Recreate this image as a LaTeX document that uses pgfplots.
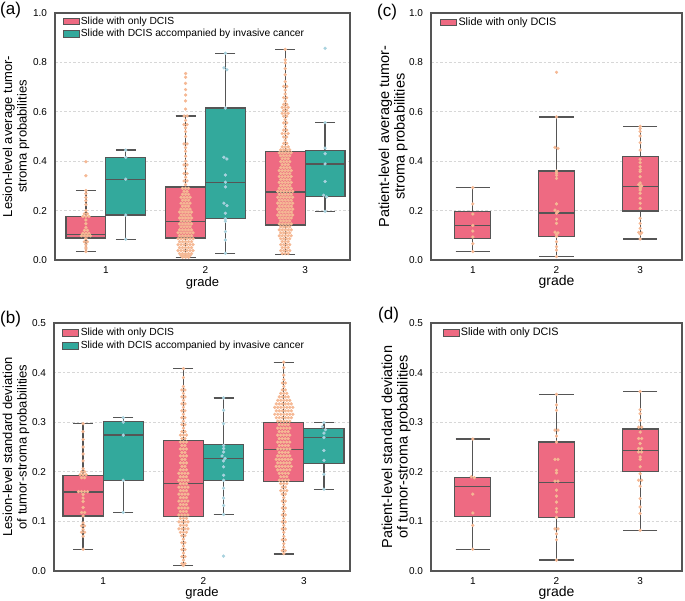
\documentclass[border=0pt]{standalone}
\usepackage{fontspec}
\setmainfont{Liberation Sans}
\usepackage{pgfplots}
\pgfplotsset{compat=1.18}
\usepackage{pgfplotstable}
\usepgfplotslibrary{statistics}

\definecolor{pinkbox}{RGB}{238,106,130}
\definecolor{tealbox}{RGB}{51,169,156}
\definecolor{pinkpt}{RGB}{245,184,148}
\definecolor{bluept}{RGB}{168,210,222}
\definecolor{edgec}{RGB}{85,85,85}
\definecolor{gridc}{RGB}{215,215,215}

\pgfplotsset{
  panel/.style={
    scale only axis,
    xmin=-0.5, xmax=2.5, ymin=0,
    xtick={0,1,2}, xticklabels={1,2,3},
    major tick length=0pt,
    axis line style={draw=edgec, line width=1.1pt},
    ymajorgrids,
    grid style={dash pattern=on 2.5pt off 2pt, draw=gridc, line width=0.6pt},
    tick label style={font=\fontsize{10}{12}\selectfont},
    /pgf/number format/assume math mode=true,
    yticklabel style={/pgf/number format/fixed, /pgf/number format/fixed zerofill, /pgf/number format/precision=1, xshift=-4.5pt},
    xticklabel style={yshift=-3pt},
    xlabel={grade},
    ylabel style={align=center, anchor=center},
    legend cell align=left,
    legend image code/.code={\draw[##1, line width=0.8pt] (0pt,-3.3pt) rectangle (16pt,3.3pt);},
    legend style={draw=none, fill=none, anchor=north west, inner sep=0pt, row sep=0pt,
      nodes={inner sep=1.5pt, text height=7.5pt, text depth=2pt}},
    boxplot/every whisker/.style={draw=edgec, line width=1.3pt},
    boxplot/every median/.style={draw=edgec, line width=1.3pt},
    boxplot/every box/.style={draw=edgec, line width=1.3pt},
  },
}

\newcommand{\bx}[9]{\addplot[draw=edgec, fill=#1, line width=1.3pt, mark=none, boxplot prepared={draw direction=y, draw position=#2, box extend=#3, whisker extend=#4, lower whisker=#5, lower quartile=#6, median=#7, upper quartile=#8, upper whisker=#9}] coordinates {};}
\newcommand{\sw}[4]{\addplot[only marks, mark=*, mark size=1.45pt, color=#1, mark options={solid, draw=#1, fill=#1}] table[x expr={(#2)+\thisrow{d}*#3}, y=y] {#4};}

% ---------------- panel (a) ----------------
\pgfplotstableread[row sep=\\]{y d\\
0.398 0\\0.341 0\\0.281 0\\0.268 0\\0.253 0\\0.240 0\\0.224 0\\0.200 0\\0.187 -0.5\\0.187 0.5\\0.176 -1\\0.176 0\\0.176 1\\0.162 0\\0.147 0\\0.132 0\\0.120 -0.5\\0.120 0.5\\0.108 -1\\0.108 0\\0.108 1\\0.098 -1.5\\0.098 -0.5\\0.098 0.5\\0.098 1.5\\0.086 0\\0.074 -0.5\\0.074 0.5\\0.062 0\\0.052 0\\0.045 0\\0.034 0\\
}\AoneP
\pgfplotstableread[row sep=\\]{y d\\0.445 0\\0.415 0\\0.327 0\\0.182 0\\0.084 0\\}\AoneT
\pgfplotstableread[row sep=\\]{y d\\
0.755 0\\0.740 0\\0.715 0\\0.690 0\\0.668 0\\0.644 0\\0.611 0\\
0.583 -0.5\\0.583 0.5\\0.565 0\\0.548 -0.5\\0.548 0.5\\0.535 0\\0.520 0\\0.500 0\\0.470 -0.5\\0.470 0.5\\0.455 0\\0.440 0\\0.420 0\\0.400 0\\0.385 -0.5\\0.385 0.5\\0.370 0\\0.350 -0.5\\0.350 0.5\\0.335 0\\0.320 -0.5\\0.320 0.5\\0.305 0\\
0.290 -1\\0.290 0\\0.290 1\\
0.278 -0.5\\0.278 0.5\\
0.266 -1\\0.266 0\\0.266 1\\
0.254 -1.5\\0.254 -0.5\\0.254 0.5\\0.254 1.5\\
0.242 -1\\0.242 0\\0.242 1\\
0.230 -1.5\\0.230 -0.5\\0.230 0.5\\0.230 1.5\\
0.218 -1\\0.218 0\\0.218 1\\
0.206 -1.5\\0.206 -0.5\\0.206 0.5\\0.206 1.5\\
0.194 -2\\0.194 -1\\0.194 0\\0.194 1\\0.194 2\\
0.182 -1.5\\0.182 -0.5\\0.182 0.5\\0.182 1.5\\
0.170 -2\\0.170 -1\\0.170 0\\0.170 1\\0.170 2\\
0.158 -1.5\\0.158 -0.5\\0.158 0.5\\0.158 1.5\\
0.146 -2\\0.146 -1\\0.146 0\\0.146 1\\0.146 2\\
0.134 -1.5\\0.134 -0.5\\0.134 0.5\\0.134 1.5\\
0.122 -2\\0.122 -1\\0.122 0\\0.122 1\\0.122 2\\
0.110 -2.5\\0.110 -1.5\\0.110 -0.5\\0.110 0.5\\0.110 1.5\\0.110 2.5\\
0.098 -2\\0.098 -1\\0.098 0\\0.098 1\\0.098 2\\
0.086 -2.5\\0.086 -1.5\\0.086 -0.5\\0.086 0.5\\0.086 1.5\\0.086 2.5\\
0.074 -2\\0.074 -1\\0.074 0\\0.074 1\\0.074 2\\
0.062 -2.5\\0.062 -1.5\\0.062 -0.5\\0.062 0.5\\0.062 1.5\\0.062 2.5\\
0.050 -2\\0.050 -1\\0.050 0\\0.050 1\\0.050 2\\
0.038 -2.5\\0.038 -1.5\\0.038 -0.5\\0.038 0.5\\0.038 1.5\\0.038 2.5\\
0.026 -2\\0.026 -1\\0.026 0\\0.026 1\\0.026 2\\
0.018 -1.5\\0.018 -0.5\\0.018 0.5\\0.018 1.5\\
0.011 -1\\0.011 0\\0.011 1\\
}\AtwoP
\pgfplotstableread[row sep=\\]{y d\\
0.837 0\\0.778 -0.5\\0.770 0.5\\0.615 0\\0.416 -0.5\\0.409 0.5\\0.344 0\\0.315 0\\0.296 0\\0.230 -0.5\\0.220 0.5\\0.189 0\\0.167 0\\0.157 0\\0.115 0\\0.081 0\\0.027 0\\
}\AtwoT
\pgfplotstableread[row sep=\\]{y d\\
0.853 0\\0.810 0\\0.798 0\\0.775 0\\0.750 0\\0.722 0\\
0.703 -0.5\\0.703 0.5\\0.688 0\\0.672 0\\0.657 -0.5\\0.657 0.5\\0.643 0\\0.630 -0.5\\0.630 0.5\\
0.618 -1\\0.618 0\\0.618 1\\0.606 -0.5\\0.606 0.5\\0.594 -1\\0.594 0\\0.594 1\\0.582 -0.5\\0.582 0.5\\
0.568 0\\0.555 -0.5\\0.555 0.5\\0.540 0\\0.526 -0.5\\0.526 0.5\\0.512 -1\\0.512 0\\0.512 1\\0.498 -0.5\\0.498 0.5\\0.485 0\\0.472 -0.5\\0.472 0.5\\0.458 -1\\0.458 0\\0.458 1\\
0.446 -1.5\\0.446 -0.5\\0.446 0.5\\0.446 1.5\\
0.434 -2\\0.434 -1\\0.434 0\\0.434 1\\0.434 2\\
0.422 -1.5\\0.422 -0.5\\0.422 0.5\\0.422 1.5\\
0.410 -1\\0.410 0\\0.410 1\\
0.398 -1.5\\0.398 -0.5\\0.398 0.5\\0.398 1.5\\
0.386 -1\\0.386 0\\0.386 1\\
0.374 -1.5\\0.374 -0.5\\0.374 0.5\\0.374 1.5\\
0.362 -2\\0.362 -1\\0.362 0\\0.362 1\\0.362 2\\
0.350 -1.5\\0.350 -0.5\\0.350 0.5\\0.350 1.5\\
0.338 -2\\0.338 -1\\0.338 0\\0.338 1\\0.338 2\\
0.326 -1.5\\0.326 -0.5\\0.326 0.5\\0.326 1.5\\
0.314 -2\\0.314 -1\\0.314 0\\0.314 1\\0.314 2\\
0.302 -1.5\\0.302 -0.5\\0.302 0.5\\0.302 1.5\\
0.290 -2\\0.290 -1\\0.290 0\\0.290 1\\0.290 2\\
0.278 -2.5\\0.278 -1.5\\0.278 -0.5\\0.278 0.5\\0.278 1.5\\0.278 2.5\\
0.266 -2\\0.266 -1\\0.266 0\\0.266 1\\0.266 2\\
0.254 -2.5\\0.254 -1.5\\0.254 -0.5\\0.254 0.5\\0.254 1.5\\0.254 2.5\\
0.242 -2\\0.242 -1\\0.242 0\\0.242 1\\0.242 2\\
0.230 -2.5\\0.230 -1.5\\0.230 -0.5\\0.230 0.5\\0.230 1.5\\0.230 2.5\\
0.218 -2\\0.218 -1\\0.218 0\\0.218 1\\0.218 2\\
0.206 -2.5\\0.206 -1.5\\0.206 -0.5\\0.206 0.5\\0.206 1.5\\0.206 2.5\\
0.194 -2\\0.194 -1\\0.194 0\\0.194 1\\0.194 2\\
0.182 -2.5\\0.182 -1.5\\0.182 -0.5\\0.182 0.5\\0.182 1.5\\0.182 2.5\\
0.170 -2\\0.170 -1\\0.170 0\\0.170 1\\0.170 2\\
0.158 -1.5\\0.158 -0.5\\0.158 0.5\\0.158 1.5\\
0.146 -2\\0.146 -1\\0.146 0\\0.146 1\\0.146 2\\
0.134 -1.5\\0.134 -0.5\\0.134 0.5\\0.134 1.5\\
0.122 -2\\0.122 -1\\0.122 0\\0.122 1\\0.122 2\\
0.110 -1.5\\0.110 -0.5\\0.110 0.5\\0.110 1.5\\
0.098 -2\\0.098 -1\\0.098 0\\0.098 1\\0.098 2\\
0.086 -1.5\\0.086 -0.5\\0.086 0.5\\0.086 1.5\\
0.074 -1\\0.074 0\\0.074 1\\
0.062 -1.5\\0.062 -0.5\\0.062 0.5\\0.062 1.5\\
0.050 -1\\0.050 0\\0.050 1\\
0.038 -1.5\\0.038 -0.5\\0.038 0.5\\0.038 1.5\\
0.026 -1\\0.026 0\\0.026 1\\
}\AthreeP
\pgfplotstableread[row sep=\\]{y d\\0.857 0\\0.556 0\\0.453 0\\0.430 0\\0.389 0\\0.318 0\\0.262 -0.5\\0.255 0.5\\0.197 0\\}\AthreeT

% ---------------- panel (b) ----------------
\pgfplotstableread[row sep=\\]{y d\\
0.297 0\\0.281 0\\0.265 0\\0.250 0\\0.236 0\\0.222 0\\0.206 0\\0.200 -0.5\\0.200 0.5\\0.194 -1\\0.194 0\\0.194 1\\0.188 -0.5\\0.188 0.5\\0.160 -1.5\\0.160 -0.5\\0.160 0.5\\0.160 1.5\\0.154 0\\0.147 0\\0.140 0\\0.128 0\\0.118 -0.5\\0.118 0.5\\0.111 0\\0.097 0\\0.091 -0.5\\0.091 0.5\\0.084 0\\0.078 -0.5\\0.078 0.5\\0.070 0\\0.044 0\\
}\BoneP
\pgfplotstableread[row sep=\\]{y d\\0.309 0\\0.300 0\\0.274 0\\0.183 0\\0.118 0\\}\BoneT
\pgfplotstableread[row sep=\\]{y d\\
0.408 0\\0.390 0\\0.372 0\\0.365 -0.5\\0.365 0.5\\0.358 0\\0.351 -0.5\\0.351 0.5\\0.344 0\\0.337 -0.5\\0.337 0.5\\0.330 0\\0.323 -0.5\\0.323 0.5\\0.316 0\\0.309 -0.5\\0.309 0.5\\0.302 0\\0.295 -0.5\\0.295 0.5\\0.288 0\\0.281 -0.5\\0.281 0.5\\
0.274 -1\\0.274 0\\0.274 1\\0.267 -0.5\\0.267 0.5\\0.260 -1\\0.260 0\\0.260 1\\0.253 -0.5\\0.253 0.5\\0.246 -1\\0.246 0\\0.246 1\\0.239 -0.5\\0.239 0.5\\0.232 -1\\0.232 0\\0.232 1\\0.225 -0.5\\0.225 0.5\\0.218 -1\\0.218 0\\0.218 1\\0.211 -0.5\\0.211 0.5\\0.204 -1\\0.204 0\\0.204 1\\
0.197 -1.5\\0.197 -0.5\\0.197 0.5\\0.197 1.5\\0.190 -1\\0.190 0\\0.190 1\\
0.183 -1.5\\0.183 -0.5\\0.183 0.5\\0.183 1.5\\0.176 -1\\0.176 0\\0.176 1\\
0.169 -1.5\\0.169 -0.5\\0.169 0.5\\0.169 1.5\\0.162 -1\\0.162 0\\0.162 1\\
0.155 -1.5\\0.155 -0.5\\0.155 0.5\\0.155 1.5\\0.148 -1\\0.148 0\\0.148 1\\
0.141 -1.5\\0.141 -0.5\\0.141 0.5\\0.141 1.5\\0.134 -1\\0.134 0\\0.134 1\\
0.127 -1.5\\0.127 -0.5\\0.127 0.5\\0.127 1.5\\0.120 -1\\0.120 0\\0.120 1\\
0.113 -1.5\\0.113 -0.5\\0.113 0.5\\0.113 1.5\\0.106 -1\\0.106 0\\0.106 1\\
0.099 -1.5\\0.099 -0.5\\0.099 0.5\\0.099 1.5\\0.092 -1\\0.092 0\\0.092 1\\
0.085 -1.5\\0.085 -0.5\\0.085 0.5\\0.085 1.5\\0.078 -1\\0.078 0\\0.078 1\\
0.071 -0.5\\0.071 0.5\\0.064 0\\0.057 -0.5\\0.057 0.5\\0.050 0\\0.043 -0.5\\0.043 0.5\\0.036 0\\0.029 -0.5\\0.029 0.5\\0.022 0\\0.015 -0.5\\0.015 0.5\\0.011 0\\
}\BtwoP
\pgfplotstableread[row sep=\\]{y d\\
0.349 0\\0.324 0\\0.297 0\\0.253 0\\0.247 0\\0.240 0\\0.232 -0.5\\0.227 0.5\\0.222 0\\0.210 0\\0.193 0\\0.183 0\\0.167 0\\0.147 0\\0.132 0\\0.114 0\\0.030 0\\
}\BtwoT
\pgfplotstableread[row sep=\\]{y d\\
0.421 0\\0.410 0\\0.395 0\\0.386 0\\0.379 -0.5\\0.379 0.5\\0.372 0\\0.365 -0.5\\0.365 0.5\\
0.358 -1\\0.358 0\\0.358 1\\
0.351 -1.5\\0.351 -0.5\\0.351 0.5\\0.351 1.5\\
0.344 -2\\0.344 -1\\0.344 0\\0.344 1\\0.344 2\\
0.337 -2.5\\0.337 -1.5\\0.337 -0.5\\0.337 0.5\\0.337 1.5\\0.337 2.5\\
0.330 -3\\0.330 -2\\0.330 -1\\0.330 0\\0.330 1\\0.330 2\\0.330 3\\
0.323 -2.5\\0.323 -1.5\\0.323 -0.5\\0.323 0.5\\0.323 1.5\\0.323 2.5\\
0.316 -3\\0.316 -2\\0.316 -1\\0.316 0\\0.316 1\\0.316 2\\0.316 3\\
0.309 -2.5\\0.309 -1.5\\0.309 -0.5\\0.309 0.5\\0.309 1.5\\0.309 2.5\\
0.302 -2\\0.302 -1\\0.302 0\\0.302 1\\0.302 2\\
0.295 -1.5\\0.295 -0.5\\0.295 0.5\\0.295 1.5\\
0.288 -2\\0.288 -1\\0.288 0\\0.288 1\\0.288 2\\
0.281 -1.5\\0.281 -0.5\\0.281 0.5\\0.281 1.5\\
0.274 -2\\0.274 -1\\0.274 0\\0.274 1\\0.274 2\\
0.267 -1.5\\0.267 -0.5\\0.267 0.5\\0.267 1.5\\
0.260 -2\\0.260 -1\\0.260 0\\0.260 1\\0.260 2\\
0.253 -1.5\\0.253 -0.5\\0.253 0.5\\0.253 1.5\\
0.246 -2\\0.246 -1\\0.246 0\\0.246 1\\0.246 2\\
0.239 -1.5\\0.239 -0.5\\0.239 0.5\\0.239 1.5\\
0.232 -2\\0.232 -1\\0.232 0\\0.232 1\\0.232 2\\
0.225 -2.5\\0.225 -1.5\\0.225 -0.5\\0.225 0.5\\0.225 1.5\\0.225 2.5\\
0.218 -2\\0.218 -1\\0.218 0\\0.218 1\\0.218 2\\
0.211 -2.5\\0.211 -1.5\\0.211 -0.5\\0.211 0.5\\0.211 1.5\\0.211 2.5\\
0.204 -2\\0.204 -1\\0.204 0\\0.204 1\\0.204 2\\
0.197 -1.5\\0.197 -0.5\\0.197 0.5\\0.197 1.5\\
0.190 -1\\0.190 0\\0.190 1\\
0.183 -1.5\\0.183 -0.5\\0.183 0.5\\0.183 1.5\\
0.176 -1\\0.176 0\\0.176 1\\
0.169 -0.5\\0.169 0.5\\0.162 -1\\0.162 0\\0.162 1\\0.155 -0.5\\0.155 0.5\\0.148 0\\0.141 -0.5\\0.141 0.5\\0.134 0\\0.127 -0.5\\0.127 0.5\\0.120 0\\0.113 -0.5\\0.113 0.5\\0.106 0\\0.099 -0.5\\0.099 0.5\\0.092 0\\0.085 -0.5\\0.085 0.5\\0.078 0\\0.070 0\\0.063 -0.5\\0.063 0.5\\0.055 0\\0.048 0\\0.041 -0.5\\0.041 0.5\\0.035 0\\
}\BthreeP
\pgfplotstableread[row sep=\\]{y d\\0.299 0\\0.291 -0.5\\0.285 0.5\\0.278 0\\0.269 0\\0.243 0\\0.223 0\\0.195 0\\0.165 0\\}\BthreeT

% ---------------- panel (c) ----------------
\pgfplotstableread[row sep=\\]{y d\\0.293 0\\0.227 0\\0.186 0\\0.140 0\\0.117 0\\0.093 0\\0.066 0\\0.034 0\\}\Cone
\pgfplotstableread[row sep=\\]{y d\\
0.760 0\\0.579 0\\0.456 -0.5\\0.452 0.5\\0.360 0\\0.352 0\\0.343 0\\0.330 0\\0.227 0\\0.202 -0.5\\0.196 0.5\\0.190 0\\0.165 0\\0.148 0\\0.113 -0.5\\0.110 0.5\\0.104 0\\0.096 0\\0.074 0\\0.054 0\\0.040 0\\0.014 0\\
}\Ctwo
\pgfplotstableread[row sep=\\]{y d\\
0.541 0\\0.532 0\\0.520 0\\0.502 0\\0.475 0\\0.445 0\\0.408 0\\0.394 0\\0.378 0\\0.365 0\\0.358 0\\0.337 0\\0.312 0\\0.305 -0.5\\0.300 0.5\\0.295 0\\0.288 0\\0.283 0\\0.270 0\\0.250 0\\0.230 0\\0.209 0\\0.169 0\\0.148 0\\0.128 0\\0.112 -0.5\\0.110 0.5\\0.105 0\\0.085 0\\
}\Cthree

% ---------------- panel (d) ----------------
\pgfplotstableread[row sep=\\]{y d\\0.266 0\\0.190 -0.5\\0.188 0.5\\0.155 0\\0.117 0\\0.092 0\\0.044 0\\}\Done
\pgfplotstableread[row sep=\\]{y d\\
0.356 0\\0.335 0\\0.324 0\\0.284 -0.5\\0.284 0.5\\0.272 0\\0.260 0\\0.225 -0.5\\0.225 0.5\\0.203 0\\0.198 0\\0.181 -0.5\\0.181 0.5\\0.163 0\\0.151 0\\0.139 0\\0.126 0\\0.119 0\\0.108 0\\0.085 -0.5\\0.085 0.5\\0.075 0\\0.063 0\\0.022 0\\
}\Dtwo
\pgfplotstableread[row sep=\\]{y d\\
0.362 0\\0.325 0\\0.317 0\\0.304 0\\0.290 -0.5\\0.290 0.5\\0.280 0\\0.267 -0.5\\0.267 0.5\\0.257 0\\0.247 -0.5\\0.247 0.5\\0.240 -0.5\\0.240 0.5\\0.230 0\\0.225 0\\0.210 0\\0.196 0\\0.183 -0.5\\0.183 0.5\\0.171 0\\0.146 0\\0.129 0\\0.116 0\\0.082 0\\
}\Dthree

\begin{document}
\begin{tikzpicture}
\path[use as bounding box] (0pt,0pt) rectangle (685pt,601pt);

\node[font=\fontsize{17}{18}\selectfont, anchor=west, inner sep=0pt] at (0pt,591pt) {(a)};
\node[font=\fontsize{17}{18}\selectfont, anchor=west, inner sep=0pt] at (0pt,282pt) {(b)};
\node[font=\fontsize{17}{18}\selectfont, anchor=west, inner sep=0pt] at (377pt,589pt) {(c)};
\node[font=\fontsize{17}{18}\selectfont, anchor=west, inner sep=0pt] at (378pt,286pt) {(d)};

% (a)
\begin{axis}[panel, at={(55pt,341pt)}, anchor=south west, width=295pt, height=247pt,
  xmin=-0.51, xmax=2.45, ymax=1, ytick={0,0.2,0.4,0.6,0.8,1.0},
  ylabel={Lesion-level average tumor-\\stroma probabilities},
  ylabel style={at={(axis description cs:-0.132,0.5)}, font=\fontsize{13}{14.5}\selectfont},
  xlabel style={at={(axis description cs:0.5,-0.093)}, anchor=center, font=\fontsize{13}{14}\selectfont},
  legend style={at={(axis description cs:0.025,0.992)}, font=\fontsize{10.3}{12}\selectfont}]
\addlegendimage{fill=pinkbox, draw=edgec}
\addlegendentry{Slide with only DCIS}
\addlegendimage{fill=tealbox, draw=edgec}
\addlegendentry{Slide with DCIS accompanied by invasive cancer}
\bx{pinkbox}{-0.2}{0.4}{0.2}{0.034}{0.089}{0.104}{0.175}{0.281}
\bx{tealbox}{0.2}{0.4}{0.2}{0.084}{0.182}{0.327}{0.414}{0.445}
\bx{pinkbox}{0.8}{0.4}{0.2}{0.011}{0.089}{0.157}{0.296}{0.583}
\bx{tealbox}{1.2}{0.4}{0.2}{0.027}{0.167}{0.315}{0.615}{0.837}
\bx{pinkbox}{1.8}{0.4}{0.2}{0.023}{0.142}{0.275}{0.439}{0.853}
\bx{tealbox}{2.2}{0.4}{0.2}{0.197}{0.258}{0.389}{0.443}{0.556}
\sw{pinkpt}{-0.2}{0.03}{\AoneP}
\sw{bluept}{0.2}{0.03}{\AoneT}
\sw{pinkpt}{0.8}{0.03}{\AtwoP}
\sw{bluept}{1.2}{0.03}{\AtwoT}
\sw{pinkpt}{1.8}{0.03}{\AthreeP}
\sw{bluept}{2.2}{0.03}{\AthreeT}
\end{axis}

% (b)
\begin{axis}[panel, at={(54pt,30pt)}, anchor=south west, width=296pt, height=248pt,
  xmin=-0.49, xmax=2.46, ymax=0.5, ytick={0,0.1,0.2,0.3,0.4,0.5},
  ylabel={Lesion-level standard deviation\\of tumor-stroma probabilities},
  ylabel style={at={(axis description cs:-0.128,0.5)}, font=\fontsize{13}{14.5}\selectfont},
  xlabel style={at={(axis description cs:0.5,-0.089)}, anchor=center, font=\fontsize{13}{14}\selectfont},
  legend style={at={(axis description cs:0.028,0.985)}, font=\fontsize{10.3}{12}\selectfont}]
\addlegendimage{fill=pinkbox, draw=edgec}
\addlegendentry{Slide with only DCIS}
\addlegendimage{fill=tealbox, draw=edgec}
\addlegendentry{Slide with DCIS accompanied by invasive cancer}
\bx{pinkbox}{-0.2}{0.4}{0.2}{0.044}{0.111}{0.159}{0.193}{0.297}
\bx{tealbox}{0.2}{0.4}{0.2}{0.118}{0.183}{0.274}{0.301}{0.309}
\bx{pinkbox}{0.8}{0.4}{0.2}{0.011}{0.110}{0.177}{0.263}{0.408}
\bx{tealbox}{1.2}{0.4}{0.2}{0.114}{0.183}{0.227}{0.255}{0.349}
\bx{pinkbox}{1.8}{0.4}{0.2}{0.034}{0.180}{0.245}{0.299}{0.421}
\bx{tealbox}{2.2}{0.4}{0.2}{0.165}{0.217}{0.269}{0.287}{0.299}
\sw{pinkpt}{-0.2}{0.03}{\BoneP}
\sw{bluept}{0.2}{0.03}{\BoneT}
\sw{pinkpt}{0.8}{0.03}{\BtwoP}
\sw{bluept}{1.2}{0.03}{\BtwoT}
\sw{pinkpt}{1.8}{0.03}{\BthreeP}
\sw{bluept}{2.2}{0.03}{\BthreeT}
\end{axis}

% (c)
\begin{axis}[panel, at={(431pt,341pt)}, anchor=south west, width=251pt, height=247pt,
  ymax=1, ytick={0,0.2,0.4,0.6,0.8,1.0},
  ylabel={Patient-level average tumor-\\stroma probabilities},
  ylabel style={at={(axis description cs:-0.151,0.5)}, font=\fontsize{14.5}{15.5}\selectfont},
  xlabel style={at={(axis description cs:0.5,-0.089)}, anchor=center, font=\fontsize{14}{15}\selectfont},
  legend style={at={(axis description cs:0.036,0.988)}, font=\fontsize{10.8}{12}\selectfont}]
\addlegendimage{fill=pinkbox, draw=edgec}
\addlegendentry{Slide with only DCIS}
\bx{pinkbox}{0}{0.43}{0.41}{0.034}{0.086}{0.140}{0.197}{0.293}
\bx{pinkbox}{1}{0.43}{0.41}{0.014}{0.096}{0.190}{0.360}{0.579}
\bx{pinkbox}{2}{0.43}{0.41}{0.085}{0.198}{0.298}{0.420}{0.541}
\sw{pinkpt}{0}{0.036}{\Cone}
\sw{pinkpt}{1}{0.036}{\Ctwo}
\sw{pinkpt}{2}{0.036}{\Cthree}
\end{axis}

% (d)
\begin{axis}[panel, at={(431pt,30pt)}, anchor=south west, width=251pt, height=248pt,
  ymax=0.5, ytick={0,0.1,0.2,0.3,0.4,0.5},
  ylabel={Patient-level standard deviation\\of tumor-stroma probabilities},
  ylabel style={at={(axis description cs:-0.139,0.5)}, font=\fontsize{14.5}{15.5}\selectfont},
  xlabel style={at={(axis description cs:0.5,-0.089)}, anchor=center, font=\fontsize{14}{15}\selectfont},
  legend style={at={(axis description cs:0.045,0.985)}, font=\fontsize{10.8}{12}\selectfont}]
\addlegendimage{fill=pinkbox, draw=edgec}
\addlegendentry{Slide with only DCIS}
\bx{pinkbox}{0}{0.43}{0.41}{0.043}{0.110}{0.171}{0.189}{0.266}
\bx{pinkbox}{1}{0.43}{0.41}{0.022}{0.108}{0.179}{0.260}{0.356}
\bx{pinkbox}{2}{0.43}{0.41}{0.082}{0.201}{0.243}{0.286}{0.362}
\sw{pinkpt}{0}{0.036}{\Done}
\sw{pinkpt}{1}{0.036}{\Dtwo}
\sw{pinkpt}{2}{0.036}{\Dthree}
\end{axis}
\end{tikzpicture}
\end{document}
